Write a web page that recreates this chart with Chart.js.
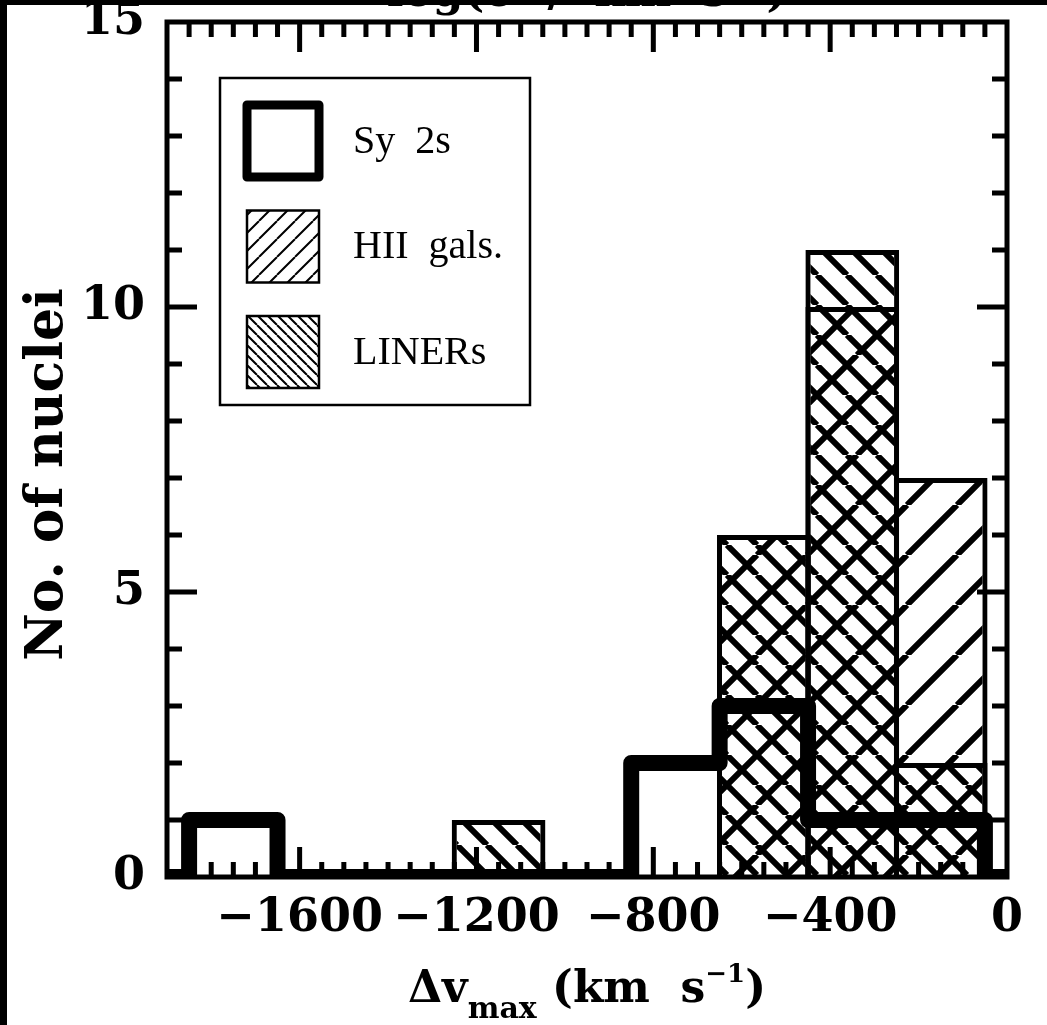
<!DOCTYPE html>
<html>
<head>
<meta charset="utf-8">
<title>No. of nuclei vs dv_max</title>
<script src="https://cdn.jsdelivr.net/npm/chart.js@4.4.1/dist/chart.umd.min.js"></script>
<style>
  html, body { margin: 0; padding: 0; background: #000; width: 1047px; height: 1025px; overflow: hidden; }
  #c { position: absolute; left: 7px; top: 5px; background: #fff; }
</style>
</head>
<body>
<canvas id="c" width="1040" height="1020"></canvas>
<script>
// histogram bins in km/s, counts of nuclei per bin
var xRange = [-1900, 0];
var yRange = [0, 15];
var binEdges = [-1850, -1650, -1450, -1250, -1050, -850, -650, -450, -250, -50];
var sy2Counts = [1, 0, 0, 0, 0, 2, 3, 1, 1];
var hiiCounts = [0, 0, 0, 0, 0, 0, 6, 10, 7];
var linerCounts = [0, 0, 0, 1, 0, 0, 6, 11, 2];
var seriesNames = ['Sy  2s', 'HII  gals.', 'LINERs'];
var xTickValues = [-1600, -1200, -800, -400, 0];
var xMinorStep = 50;
var yTickValues = [0, 5, 10, 15];
var yMinorStep = 1;

var serifBold = '"DejaVu Serif", serif';

function binCenter(i) { return (binEdges[i] + binEdges[i + 1]) / 2; }

function barPoints(counts) {
  return counts.map(function (n, i) { return { x: binCenter(i), y: n }; });
}

// outline of a histogram drawn as a stepped line
function stepPoints(counts) {
  var pts = [{ x: xRange[0], y: 0 }];
  binEdges.forEach(function (e, i) {
    pts.push({ x: e, y: i < counts.length ? counts[i] : 0 });
  });
  pts.push({ x: xRange[1], y: 0 });
  return pts;
}

// diagonal hatch; dir 1 = "/", dir -1 = "\"
function hatch(tile, width, dir) {
  var c = document.createElement('canvas');
  c.width = tile; c.height = tile;
  var g = c.getContext('2d');
  g.strokeStyle = '#000';
  g.lineWidth = width;
  g.beginPath();
  for (var k = -1; k <= 1; k++) {
    if (dir > 0) { g.moveTo(k * tile, tile); g.lineTo(k * tile + tile, 0); }
    else { g.moveTo(k * tile, 0); g.lineTo(k * tile + tile, tile); }
  }
  g.stroke();
  return g.createPattern(c, 'repeat');
}

// inward tick marks on all four sides + the frame
var frameTicks = {
  id: 'frameTicks',
  afterDatasetsDraw: function (chart) {
    var ctx = chart.ctx, a = chart.chartArea;
    var xs = chart.scales.x, ys = chart.scales.y;
    ctx.save();
    ctx.strokeStyle = '#000';
    ctx.lineWidth = 5;
    ctx.beginPath();
    for (var v = xRange[0] + xMinorStep; v < xRange[1]; v += xMinorStep) {
      var px = xs.getPixelForValue(v);
      var len = xTickValues.indexOf(v) >= 0 ? 30 : 15;
      ctx.moveTo(px, a.bottom); ctx.lineTo(px, a.bottom - len);
      ctx.moveTo(px, a.top); ctx.lineTo(px, a.top + len);
    }
    for (var w = yRange[0] + yMinorStep; w < yRange[1]; w += yMinorStep) {
      var py = ys.getPixelForValue(w);
      var l2 = yTickValues.indexOf(w) >= 0 ? 30 : 15;
      ctx.moveTo(a.left, py); ctx.lineTo(a.left + l2, py);
      ctx.moveTo(a.right, py); ctx.lineTo(a.right - l2, py);
    }
    ctx.stroke();
    ctx.lineJoin = 'miter';
    ctx.strokeRect(a.left, a.top, a.right - a.left, a.bottom - a.top);
    ctx.restore();
  }
};

var boxLegend = {
  id: 'boxLegend',
  afterDatasetsDraw: function (chart, args, opts) {
    var ctx = chart.ctx, a = chart.chartArea;
    var x0 = a.left + opts.offsetX, y0 = a.top + opts.offsetY;
    ctx.save();
    ctx.fillStyle = '#fff';
    ctx.fillRect(x0, y0, opts.width, opts.height);
    ctx.strokeStyle = '#000';
    ctx.lineWidth = 2.5;
    ctx.strokeRect(x0, y0, opts.width, opts.height);
    chart.data.datasets.forEach(function (ds, i) {
      var sx = x0 + 27, sy = y0 + 27 + i * 105.5, s = 72;
      if (ds.type === 'line') {
        ctx.lineWidth = 9;
        ctx.lineJoin = 'round';
        ctx.strokeRect(sx, sy, s, s);
      } else {
        ctx.fillStyle = ds.legendFill;
        ctx.fillRect(sx, sy, s, s);
        ctx.lineWidth = 2.5;
        ctx.lineJoin = 'miter';
        ctx.strokeRect(sx, sy, s, s);
      }
      ctx.fillStyle = '#000';
      ctx.font = '40px "Liberation Serif", serif';
      ctx.textBaseline = 'middle';
      ctx.textAlign = 'left';
      ctx.fillText(ds.label, x0 + 133, sy + s / 2 + 1);
    });
    ctx.restore();
  }
};

// axis titles with sub/superscripts, and the clipped top caption
function drawRun(ctx, parts, cx, baseY) {
  var total = 0;
  parts.forEach(function (p) {
    ctx.font = 'bold ' + p.size + 'px ' + serifBold;
    p.w = ctx.measureText(p.t).width;
    total += p.w;
  });
  var x = cx - total / 2;
  ctx.textAlign = 'left';
  ctx.textBaseline = 'alphabetic';
  parts.forEach(function (p) {
    ctx.font = 'bold ' + p.size + 'px ' + serifBold;
    ctx.fillText(p.t, x, baseY + p.dy);
    x += p.w;
  });
}

var axisText = {
  id: 'axisText',
  afterDraw: function (chart) {
    var ctx = chart.ctx, a = chart.chartArea;
    var cx = (a.left + a.right) / 2;
    ctx.save();
    ctx.fillStyle = '#000';
    drawRun(ctx, [
      { t: '\u0394v', size: 44, dy: 0 },
      { t: 'max', size: 30, dy: 16 },
      { t: ' (km  s', size: 44, dy: 0 },
      { t: '\u22121', size: 26, dy: -20 },
      { t: ')', size: 44, dy: 0 }
    ], cx, a.bottom + 125);
    drawRun(ctx, [
      { t: 'log(\u03c3', size: 44, dy: 0 },
      { t: '  /  km  s', size: 44, dy: 0 },
      { t: '\u22121', size: 26, dy: -20 },
      { t: ')', size: 44, dy: 0 }
    ], cx, a.top - 16);
    ctx.translate(55, (a.top + a.bottom) / 2 + 25);
    ctx.rotate(-Math.PI / 2);
    ctx.font = 'bold 52px ' + serifBold;
    ctx.textAlign = 'center';
    ctx.textBaseline = 'alphabetic';
    ctx.fillText('No. of nuclei', 0, 0);
    ctx.restore();
  }
};

var tickFont = { family: serifBold, size: 46, weight: 'bold', lineHeight: 0.7 };

new Chart(document.getElementById('c'), {
  type: 'bar',
  data: {
    datasets: [
      {
        type: 'line',
        label: seriesNames[0],
        data: stepPoints(sy2Counts),
        stepped: true,
        borderColor: '#000',
        borderWidth: 16,
        borderJoinStyle: 'round',
        borderCapStyle: 'butt',
        pointRadius: 0,
        fill: false,
        order: 0
      },
      {
        label: seriesNames[1],
        data: barPoints(hiiCounts),
        backgroundColor: hatch(50, 6, 1),
        legendFill: hatch(18, 2, 1),
        borderColor: '#000',
        borderWidth: 5,
        inflateAmount: 0,
        barPercentage: 1.06,
        categoryPercentage: 1,
        grouped: false,
        order: 2
      },
      {
        label: seriesNames[2],
        data: barPoints(linerCounts),
        backgroundColor: hatch(30, 6, -1),
        legendFill: hatch(10, 2, -1),
        borderColor: '#000',
        borderWidth: 5,
        inflateAmount: 0,
        barPercentage: 1.06,
        categoryPercentage: 1,
        grouped: false,
        order: 1
      }
    ]
  },
  options: {
    responsive: false,
    animation: false,
    events: [],
    layout: { padding: { top: 17, right: 40, left: 0, bottom: 0 } },
    scales: {
      x: {
        type: 'linear',
        offset: false,
        min: xRange[0],
        max: xRange[1],
        afterBuildTicks: function (s) { s.ticks = xTickValues.map(function (v) { return { value: v }; }); },
        afterFit: function (s) { s.height = 148; s.paddingLeft = 0; s.paddingRight = 0; },
        grid: { display: false, drawTicks: false },
        border: { display: false },
        ticks: {
          color: '#000',
          font: tickFont,
          padding: 26,
          maxRotation: 0,
          autoSkip: false,
          callback: function (v) { return v < 0 ? '\u2212' + Math.abs(v) : String(v); }
        }
      },
      y: {
        min: yRange[0],
        max: yRange[1],
        afterBuildTicks: function (s) { s.ticks = yTickValues.map(function (v) { return { value: v }; }); },
        afterFit: function (s) { s.width = 160; s.paddingTop = 0; s.paddingBottom = 0; },
        grid: { display: false, drawTicks: false },
        border: { display: false },
        ticks: { color: '#000', font: tickFont, padding: 22 }
      }
    },
    plugins: {
      legend: { display: false },
      tooltip: { enabled: false },
      boxLegend: { offsetX: 53, offsetY: 56, width: 310, height: 327 }
    }
  },
  plugins: [frameTicks, boxLegend, axisText]
});
</script>
</body>
</html>
